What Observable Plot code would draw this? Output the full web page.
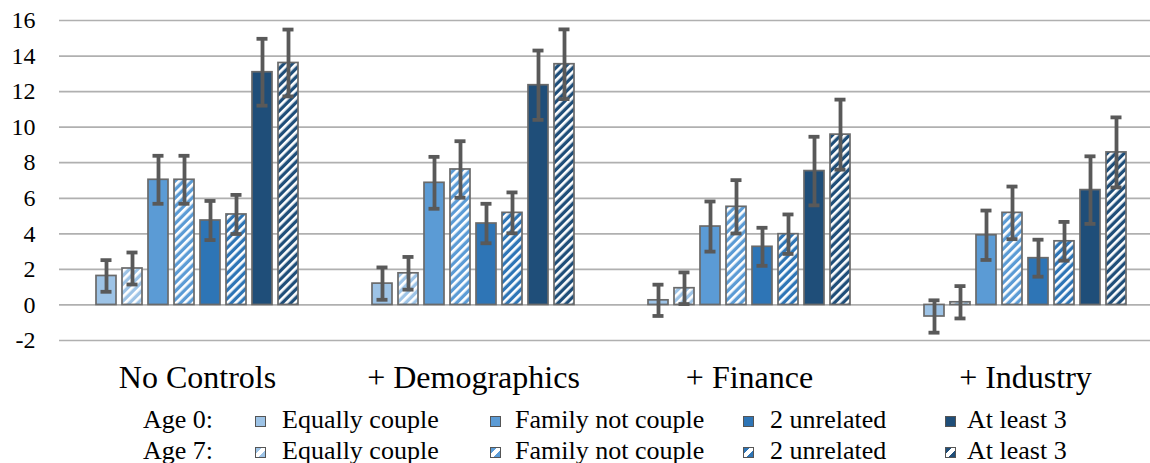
<!DOCTYPE html>
<html><head><meta charset="utf-8">
<script src="https://cdn.jsdelivr.net/npm/d3@7"></script>
<script src="https://cdn.jsdelivr.net/npm/@observablehq/plot@0.6"></script>
<style>html,body{margin:0;padding:0;background:#fff;overflow:hidden;font-family:"Liberation Serif"}#chart svg{display:block}
#chart svg, #chart svg text{font-family:"Liberation Serif" !important}
#legend{position:relative;width:1150px;height:63px;font-family:"Liberation Serif";font-size:26px;color:#000}
#legend span{position:absolute;line-height:26px;white-space:nowrap}
#legend .sw{position:absolute;width:11px;height:11px;box-sizing:border-box;border:1px solid #555}</style>
</head><body><div id="chart"></div><div id="legend"></div><script>
const groups = ["No Controls", "+ Demographics", "+ Finance", "+ Industry"];
const households = ["Equally couple", "Family not couple", "2 unrelated", "At least 3"];
const ages = ["Age 0:", "Age 7:"];
const colors = ["#9DC3E6", "#5B9BD5", "#2E75B6", "#1F4E79"];
// values per group (rows) and household type (columns)
const age0Values = [[1.63, 7.04, 4.75, 13.09], [1.20, 6.87, 4.58, 12.36], [0.26, 4.41, 3.27, 7.53], [-0.65, 3.92, 2.63, 6.46]];
const age7Values = [[2.05, 7.04, 5.09, 13.61], [1.78, 7.62, 5.18, 13.54], [0.94, 5.52, 3.98, 9.58], [0.15, 5.18, 3.58, 8.58]];
const age0Errors = [[0.89, 1.35, 1.10, 1.88], [0.91, 1.46, 1.11, 1.95], [0.88, 1.41, 1.07, 1.93], [0.91, 1.39, 1.04, 1.90]];
const age7Errors = [[0.90, 1.35, 1.10, 1.88], [0.92, 1.59, 1.15, 1.96], [0.89, 1.50, 1.11, 1.97], [0.91, 1.48, 1.09, 1.97]];
const yTicks = [-2, 0, 2, 4, 6, 8, 10, 12, 14, 16];

const rows = [];
groups.forEach((g, gi) => {
  households.forEach((h, hi) => {
    rows.push({group: g, key: h + "|0", age: 0, color: colors[hi], value: age0Values[gi][hi], err: age0Errors[gi][hi]});
    rows.push({group: g, key: h + "|7", age: 7, color: colors[hi], value: age7Values[gi][hi], err: age7Errors[gi][hi]});
  });
});
const keys = households.flatMap(h => [h + "|0", h + "|7"]);
const serif = "Liberation Serif";
const errColor = "#595959";

const svg = Plot.plot({
  width: 1150, height: 400,
  marginLeft: 57, marginRight: -14, marginTop: 20, marginBottom: 60,
  style: {fontFamily: serif, fontSize: "24px", color: "#000", background: "#fff"},
  fx: {domain: groups, padding: 0},
  x: {domain: keys, paddingInner: 0.218, paddingOuter: 1.337, axis: null},
  y: {domain: [-2, 16]},
  color: {type: "identity"},
  marks: [
    Plot.gridY(yTicks, {stroke: "#b0b0b0", strokeOpacity: 1, strokeWidth: 1.7}),
    Plot.barY(rows, {fx: "group", x: "key", y: "value", fill: "color"}),
    Plot.barY(rows.filter(d => d.age === 7), {fx: "group", x: "key", y: "value", fill: "url(#hatch)"}),
    Plot.barY(rows, {fx: "group", x: "key", y: "value", fill: "none", stroke: "#6a6a6a", strokeWidth: 1.7}),
    Plot.ruleX(rows, {fx: "group", x: "key", y1: d => d.value - d.err, y2: d => d.value + d.err, stroke: errColor, strokeWidth: 3.8}),
    Plot.tickY(rows, {fx: "group", x: "key", y: d => d.value - d.err, stroke: errColor, strokeWidth: 3.8, insetLeft: 4.5, insetRight: 4.5}),
    Plot.tickY(rows, {fx: "group", x: "key", y: d => d.value + d.err, stroke: errColor, strokeWidth: 3.8, insetLeft: 4.5, insetRight: 4.5}),
    Plot.axisY(yTicks, {tickSize: 0, tickPadding: 24, fontSize: 24, fontFamily: serif, tickFormat: d => String(d), label: null}),
    Plot.axisFx({anchor: "bottom", tickSize: 0, tickPadding: 25, fontSize: 32, fontFamily: serif, label: null})
  ]
});

const defs = d3.select(svg).insert("defs", ":first-child");
const pat = defs.append("pattern").attr("id", "hatch").attr("patternUnits", "userSpaceOnUse")
  .attr("width", 6).attr("height", 6).attr("patternTransform", "rotate(45)");
pat.append("rect").attr("x", 0).attr("y", 0).attr("width", 2.7).attr("height", 6).attr("fill", "#fff");
document.getElementById("chart").appendChild(svg);

// HTML legend below the chart
const legendX = {label: 143, swatch: [255, 490, 743, 945], text: [282, 515, 770, 967]};
const leg = d3.select("#legend");
[27, 58].forEach((base, ai) => {
  const top = base - 20;
  leg.append("span").style("left", legendX.label + "px").style("top", top + "px").text(ages[ai]);
  households.forEach((h, hi) => {
    const bg = ai === 0 ? colors[hi]
      : `linear-gradient(135deg, ${colors[hi]} 0 30%, #fff 30% 62%, ${colors[hi]} 62% 100%)`;
    leg.append("div").attr("class", "sw").style("left", legendX.swatch[hi] + "px")
      .style("top", (base - 11.5) + "px").style("background", bg);
    leg.append("span").style("left", legendX.text[hi] + "px").style("top", top + "px").text(h);
  });
});
</script></body></html>
